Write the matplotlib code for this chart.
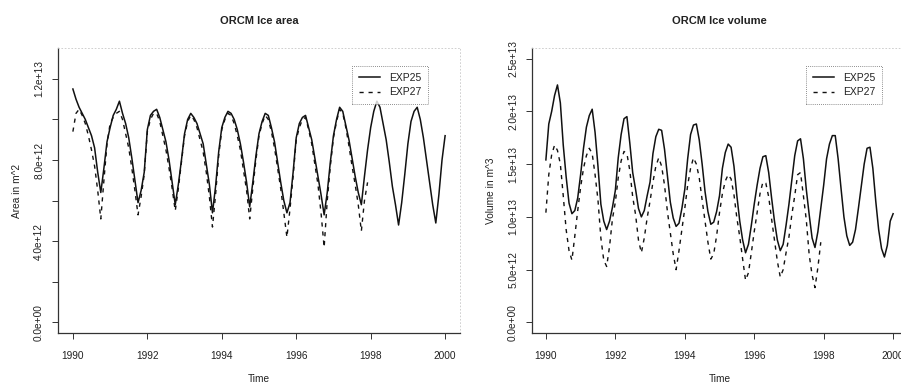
import numpy as np
import matplotlib
matplotlib.use("Agg")
import matplotlib.pyplot as plt

plt.rcParams['font.family'] = ['Liberation Sans', 'DejaVu Sans']

# Monthly values, Jan 1990 onward (units of 1e12)
area_exp25 = [
    11.5, 11.0, 10.6, 10.3, 10.0, 9.6, 9.2, 8.6, 7.4, 6.4, 7.6, 8.9,      # 1990
    9.6, 10.2, 10.5, 10.9, 10.3, 9.8, 9.1, 8.1, 7.0, 5.9, 6.5, 7.4,       # 1991
    9.5, 10.2, 10.4, 10.5, 10.1, 9.5, 8.9, 8.0, 6.9, 5.8, 6.8, 8.0,       # 1992
    9.3, 10.0, 10.3, 10.1, 9.8, 9.3, 8.8, 7.8, 6.8, 5.4, 6.7, 8.4,        # 1993
    9.6, 10.1, 10.4, 10.3, 10.0, 9.5, 8.8, 7.9, 6.9, 5.7, 6.9, 8.2,       # 1994
    9.3, 9.9, 10.3, 10.2, 9.6, 8.9, 7.9, 6.9, 6.0, 5.4, 5.9, 7.4,         # 1995
    9.1, 9.8, 10.1, 10.2, 9.6, 9.0, 8.1, 7.2, 6.3, 5.3, 6.4, 7.9,         # 1996
    9.2, 10.0, 10.6, 10.4, 9.7, 9.0, 8.1, 7.2, 6.4, 5.8, 7.2, 8.5,        # 1997
    9.6, 10.4, 10.9, 10.6, 9.8, 9.0, 7.9, 6.7, 5.8, 4.8, 5.9, 7.3,        # 1998
    8.8, 9.9, 10.4, 10.6, 10.0, 9.1, 8.0, 6.9, 5.8, 4.9, 6.3, 8.0,        # 1999
    9.2,                                                                  # 2000
]
area_exp27 = [
    9.4, 10.3, 10.5, 10.2, 9.8, 9.2, 8.5, 7.7, 6.5, 5.1, 7.0, 8.8,        # 1990
    9.8, 10.1, 10.3, 10.4, 10.0, 9.3, 8.6, 7.6, 6.5, 5.3, 6.2, 7.3,       # 1991
    9.4, 10.0, 10.3, 10.3, 9.9, 9.2, 8.5, 7.6, 6.6, 5.5, 6.6, 7.9,        # 1992
    9.2, 9.9, 10.2, 10.0, 9.6, 9.0, 8.4, 7.4, 6.2, 4.7, 6.3, 8.2,         # 1993
    9.5, 10.0, 10.3, 10.2, 9.8, 9.2, 8.5, 7.5, 6.5, 5.1, 6.6, 8.0,        # 1994
    9.2, 9.8, 10.2, 10.0, 9.4, 8.6, 7.6, 6.6, 5.4, 4.2, 5.6, 7.2,         # 1995
    9.0, 9.6, 10.0, 10.1, 9.5, 8.8, 7.8, 6.8, 5.4, 3.7, 6.0, 7.7,         # 1996
    9.1, 9.9, 10.5, 10.3, 9.6, 8.7, 7.7, 6.8, 5.8, 4.5, 6.0, 6.9,         # 1997
]
volume_exp25 = [
    15.4, 18.8, 20.0, 21.5, 22.5, 20.8, 16.8, 13.8, 11.3, 10.3, 10.6, 11.8,   # 1990
    14.0, 16.5, 18.5, 19.6, 20.2, 18.0, 14.8, 11.2, 9.6, 8.8, 9.6, 10.9,      # 1991
    12.5, 15.6, 17.8, 19.3, 19.5, 17.0, 14.2, 12.6, 10.8, 10.0, 10.6, 12.0,   # 1992
    13.3, 16.0, 17.6, 18.3, 18.2, 16.4, 13.9, 11.4, 9.9, 9.1, 9.4, 10.8,      # 1993
    12.6, 15.5, 17.8, 18.7, 18.8, 17.3, 15.0, 12.4, 10.5, 9.3, 9.5, 10.5,     # 1994
    12.0, 14.6, 16.1, 16.9, 16.6, 14.8, 12.0, 9.6, 7.8, 6.6, 7.4, 9.2,        # 1995
    11.2, 13.0, 14.6, 15.7, 15.8, 14.2, 11.8, 9.6, 7.8, 6.8, 7.4, 9.2,        # 1996
    11.2, 13.5, 15.8, 17.2, 17.4, 15.5, 12.6, 10.2, 8.0, 7.1, 8.6, 10.8,      # 1997
    13.0, 15.5, 16.9, 17.7, 17.7, 15.5, 12.7, 10.0, 8.2, 7.3, 7.6, 8.8,       # 1998
    10.8, 12.9, 15.0, 16.5, 16.6, 14.6, 11.5, 8.8, 7.0, 6.2, 7.3, 9.6,        # 1999
    10.3,                                                                     # 2000
]
volume_exp27 = [
    10.4, 14.0, 15.9, 16.8, 16.3, 15.0, 12.0, 8.8, 6.8, 5.9, 8.2, 10.6,       # 1990
    12.8, 14.6, 15.8, 16.5, 16.0, 14.0, 11.6, 8.0, 5.9, 5.3, 7.2, 9.8,        # 1991
    11.4, 13.7, 15.3, 16.2, 16.0, 14.4, 11.9, 10.2, 7.8, 6.6, 8.0, 9.9,       # 1992
    11.5, 13.3, 14.8, 15.6, 14.8, 13.0, 10.5, 8.5, 6.5, 5.0, 6.8, 8.8,        # 1993
    10.8, 13.0, 14.6, 15.6, 15.0, 13.7, 11.6, 9.6, 7.6, 6.0, 6.5, 8.2,        # 1994
    10.4, 12.2, 13.4, 14.0, 13.6, 12.1, 9.9, 8.1, 6.0, 4.0, 4.7, 6.6,         # 1995
    8.6, 10.4, 12.2, 13.3, 13.2, 11.9, 9.8, 7.8, 5.8, 4.3, 5.0, 6.6,          # 1996
    8.1, 10.2, 12.0, 14.0, 14.2, 12.0, 9.7, 6.4, 4.5, 3.3, 5.2, 7.6,          # 1997
]

start_year = 1990
year_ticks = [1990, 1992, 1994, 1996, 1998, 2000]
series_names = ["EXP25", "EXP27"]

area_ticks = [0, 2e12, 4e12, 6e12, 8e12, 1e13, 1.2e13]
area_labels = ["0.0e+00", "", "4.0e+12", "", "8.0e+12", "", "1.2e+13"]
vol_ticks = [0, 5e12, 1e13, 1.5e13, 2e13, 2.5e13]
vol_labels = ["0.0e+00", "5.0e+12", "1.0e+13", "1.5e+13", "2.0e+13", "2.5e+13"]


def monthly_time(values):
    return start_year + np.arange(len(values)) / 12.0


W, H = 901, 384
fig = plt.figure(figsize=(W / 100, H / 100), dpi=100)


def px_axes(x0, x1, y0, y1):
    return fig.add_axes([x0 / W, 1 - y1 / H, (x1 - x0) / W, (y1 - y0) / H])


def style(ax, yticks, ylabels, ylim, title, ylabel, leg_pos):
    ax.set_xlim(1989.6, 2000.4)
    ax.set_ylim(*ylim)
    ax.set_xticks(year_ticks)
    ax.set_xticklabels([str(y) for y in year_ticks])
    ax.set_yticks(yticks)
    ax.set_yticklabels(ylabels)
    for lab in ax.get_yticklabels():
        lab.set_rotation(90)
        lab.set_va("center")
    ax.tick_params(direction="out", length=4, width=0.7, labelsize=7.3,
                   color="#333333", labelcolor="#222222")
    ax.tick_params(axis="x", pad=9)
    ax.tick_params(axis="y", pad=6)
    for side in ("left", "bottom"):
        ax.spines[side].set_color("#333333")
        ax.spines[side].set_linewidth(0.9)
    for side in ("top", "right"):
        ax.spines[side].set_color("#c8c8c8")
        ax.spines[side].set_linewidth(0.6)
        ax.spines[side].set_linestyle((0, (1, 3)))
    ax.set_title(title, fontsize=8, fontweight="bold", color="#222222", pad=17)
    ax.set_xlabel("Time", fontsize=7.3, color="#222222", labelpad=9)
    ax.set_ylabel(ylabel, fontsize=7.3, color="#222222", labelpad=9)
    leg = ax.legend(series_names, loc="upper left",
                    bbox_to_anchor=(leg_pos[0] / W, 1 - leg_pos[1] / H),
                    bbox_transform=fig.transFigure, fontsize=7.5,
                    frameon=True, fancybox=False, borderpad=0.65,
                    handlelength=2.0, handletextpad=0.9, labelspacing=0.45,
                    borderaxespad=0)
    fr = leg.get_frame()
    fr.set_edgecolor("#444444")
    fr.set_linewidth(0.6)
    fr.set_linestyle((0, (1, 1.5)))
    for t in leg.get_texts():
        t.set_color("#222222")


solid_kw = dict(color="#111111", lw=1.1, solid_joinstyle="round")
dash_kw = dict(color="#111111", lw=1.0, linestyle=(0, (3, 3.5)))

ax1 = px_axes(58, 460, 48, 333)
ax1.plot(monthly_time(area_exp25), np.array(area_exp25) * 1e12, **solid_kw)
ax1.plot(monthly_time(area_exp27), np.array(area_exp27) * 1e12, **dash_kw)
style(ax1, area_ticks, area_labels, (-0.52e12, 13.52e12),
      "ORCM Ice area", "Area in m^2", (352, 66))

ax2 = px_axes(532, 907, 48, 333)
ax2.plot(monthly_time(volume_exp25), np.array(volume_exp25) * 1e12, **solid_kw)
ax2.plot(monthly_time(volume_exp27), np.array(volume_exp27) * 1e12, **dash_kw)
style(ax2, vol_ticks, vol_labels, (-1.0e12, 26.0e12),
      "ORCM Ice volume", "Volume in m^3", (806, 66))

fig.savefig("out.png", dpi=100)
